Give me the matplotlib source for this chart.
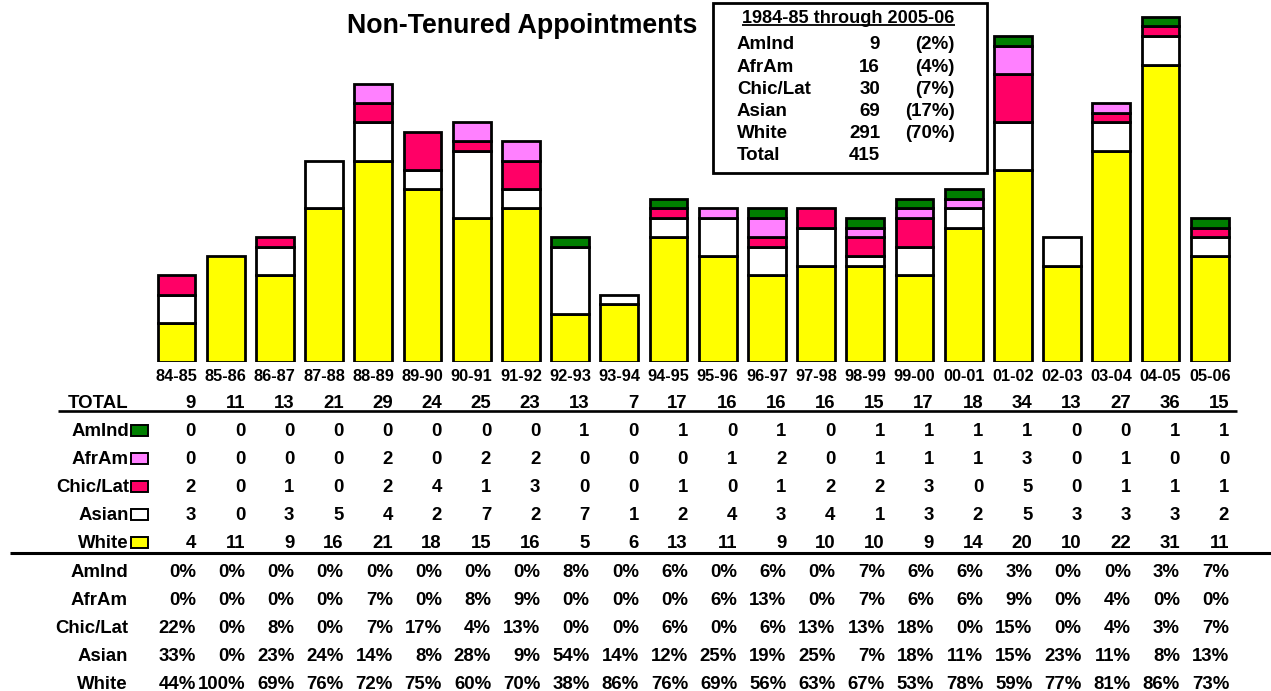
import math
import matplotlib
matplotlib.use('Agg')
import matplotlib.pyplot as plt
from matplotlib.patches import Rectangle
import matplotlib.transforms as mtrans

plt.rcParams['font.family'] = ['Liberation Sans', 'DejaVu Sans']
plt.rcParams['font.weight'] = 'bold'

# ---------------- data ----------------
years = ['84-85', '85-86', '86-87', '87-88', '88-89', '89-90', '90-91', '91-92',
         '92-93', '93-94', '94-95', '95-96', '96-97', '97-98', '98-99', '99-00',
         '00-01', '01-02', '02-03', '03-04', '04-05', '05-06']
amind = [0, 0, 0, 0, 0, 0, 0, 0, 1, 0, 1, 0, 1, 0, 1, 1, 1, 1, 0, 0, 1, 1]
afram = [0, 0, 0, 0, 2, 0, 2, 2, 0, 0, 0, 1, 2, 0, 1, 1, 1, 3, 0, 1, 0, 0]
chiclat = [2, 0, 1, 0, 2, 4, 1, 3, 0, 0, 1, 0, 1, 2, 2, 3, 0, 5, 0, 1, 1, 1]
asian = [3, 0, 3, 5, 4, 2, 7, 2, 7, 1, 2, 4, 3, 4, 1, 3, 2, 5, 3, 3, 3, 2]
white = [4, 11, 9, 16, 21, 18, 15, 16, 5, 6, 13, 11, 9, 10, 10, 9, 14, 20, 10, 22, 31, 11]

group_names = ['AmInd', 'AfrAm', 'Chic/Lat', 'Asian', 'White']
group_data = [amind, afram, chiclat, asian, white]
group_colors = ['#007F00', '#FF80FF', '#FF0066', '#FFFFFF', '#FFFF00']

totals = [sum(v) for v in zip(*group_data)]


def pct(n, d):
    return int(math.floor(100.0 * n / d + 0.5))


# ---------------- layout ----------------
W, H = 1271, 691
fig = plt.figure(figsize=(W / 100, H / 100), dpi=100)

ov = fig.add_axes([0, 0, 1, 1])
ov.set_xlim(0, W)
ov.set_ylim(H, 0)
ov.axis('off')

pitch = 49.2
c0 = 176.5
base = 361.7
ppu = 9.58
ymax = 37
left = c0 - 0.5 * pitch
ax = fig.add_axes([left / W, (H - base) / H, 22 * pitch / W, ymax * ppu / H])
ax.set_xlim(-0.5, 21.5)
ax.set_ylim(0, ymax)
ax.axis('off')

x = list(range(len(years)))
bottom = [0] * len(years)
# stack from bottom: White, Asian, Chic/Lat, AfrAm, AmInd
for name, data, col in reversed(list(zip(group_names, group_data, group_colors))):
    lws = [2.0 if v > 0 else 0 for v in data]
    ax.bar(x, data, bottom=bottom, width=0.772, color=col, edgecolor='black',
           linewidth=lws, zorder=3)
    bottom = [b + v for b, v in zip(bottom, data)]

tr = mtrans.blended_transform_factory(ax.transData, ov.transData)
off = 19.5 / pitch
FS = 13.4

# year labels
for i, yl in enumerate(years):
    ov.text(i, 380.7, yl, transform=tr, ha='center', va='baseline', fontsize=11.8)

# TOTAL row
ov.text(128, 408, 'TOTAL', ha='right', va='baseline', fontsize=FS)
for i, t in enumerate(totals):
    ov.text(i + off, 408, str(t), transform=tr, ha='right', va='baseline', fontsize=FS)
ov.plot([58, 1237], [411, 411], color='black', lw=1.9, solid_capstyle='butt')

# counts rows
count_base = [436, 464, 492, 520, 548]
for name, data, col, yb in zip(group_names, group_data, group_colors, count_base):
    ov.text(129, yb, name, ha='right', va='baseline', fontsize=FS)
    ov.add_patch(Rectangle((130.5, yb - 11), 17.5, 10.5, facecolor=col,
                           edgecolor='black', linewidth=1.4))
    for i, v in enumerate(data):
        ov.text(i + off, yb, str(v), transform=tr, ha='right', va='baseline', fontsize=FS)
ov.plot([10, W], [552.5, 552.5], color='black', lw=2.2, solid_capstyle='butt')

# percent rows
pct_base = [577, 605, 633, 661, 689]
for name, data, yb in zip(group_names, group_data, pct_base):
    ov.text(128, yb, name, ha='right', va='baseline', fontsize=FS)
    for i, v in enumerate(data):
        ov.text(i + off, yb, f'{pct(v, totals[i])}%', transform=tr, ha='right',
                va='baseline', fontsize=FS)

# title
ov.text(522.5, 33.3, 'Non-Tenured Appointments', ha='center', va='baseline', fontsize=19.3)

# summary box
ov.add_patch(Rectangle((713, 3), 274, 170, facecolor='white', edgecolor='black',
                       linewidth=2.0, zorder=1))
hdr = ov.text(848.5, 23.3, '1984-85 through 2005-06', ha='center', va='baseline',
              fontsize=13.1)
grand = sum(totals)
inset_base = [49.3, 71.7, 94, 116, 138.3]
IFS = 13.5
for name, data, yb in zip(group_names, group_data, inset_base):
    s = sum(data)
    ov.text(737, yb, name, ha='left', va='baseline', fontsize=IFS)
    ov.text(880, yb, str(s), ha='right', va='baseline', fontsize=IFS)
    ov.text(955, yb, f'({pct(s, grand)}%)', ha='right', va='baseline', fontsize=IFS)
ov.text(737, 160, 'Total', ha='left', va='baseline', fontsize=IFS)
ov.text(880, 160, str(grand), ha='right', va='baseline', fontsize=IFS)

fig.canvas.draw()
bb = hdr.get_window_extent()
inv = ov.transData.inverted()
(x0, _), (x1, _) = inv.transform([[bb.x0, bb.y0], [bb.x1, bb.y1]])
ov.plot([x0, x1], [25.3, 25.3], color='black', lw=1.3, solid_capstyle='butt')

fig.savefig('out.png', dpi=100)
